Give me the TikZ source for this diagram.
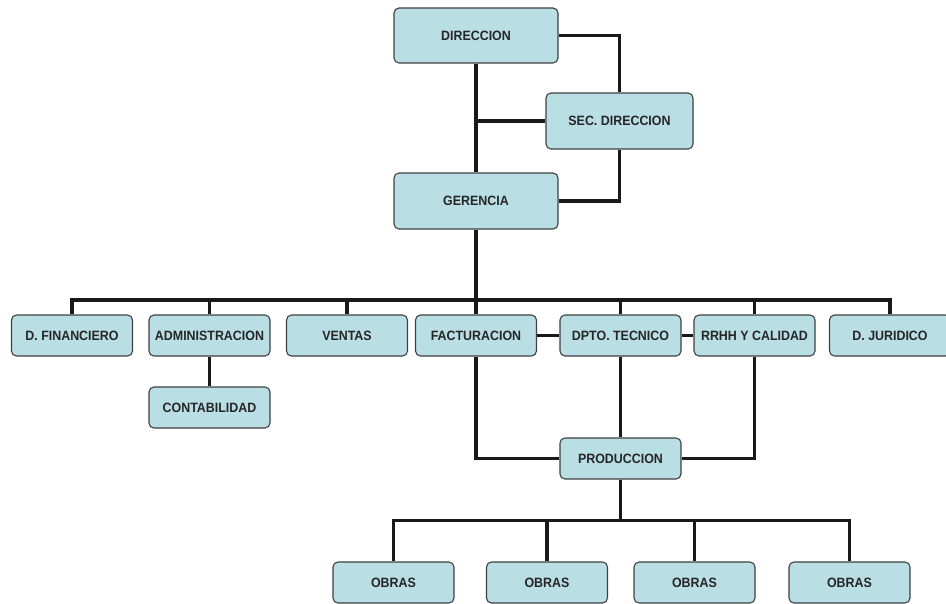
\documentclass[tikz,border=0pt]{standalone}
\usepackage{fontspec}
\setmainfont{Liberation Sans}
\newfontfamily\boxfont[FakeStretch=0.92]{Liberation Sans}
\usetikzlibrary{backgrounds}
\begin{document}
\begin{tikzpicture}[x=1pt,y=-1pt,
  unit/.style={draw=black!75, line width=1.1pt, fill=boxfill, rounded corners=5pt,
    minimum width=121pt, minimum height=41pt, inner sep=0pt,
    font=\boxfont\fontsize{13.5}{15}\selectfont\bfseries, text=black!85},
  link/.style={line width=3.2pt, draw=black!90}]
\definecolor{boxfill}{RGB}{185,222,228}
\useasboundingbox (0,0) rectangle (946,603);

% units of the chart
\node[unit, minimum width=164pt, minimum height=55pt] (dir) at (476,35.5) {DIRECCION};
\node[unit, minimum width=147pt, minimum height=56pt] (sec) at (619.5,121) {SEC. DIRECCION};
\node[unit, minimum width=164pt, minimum height=56pt] (ger) at (476,201) {GERENCIA};

\node[unit] (dfin) at (72,335.5) {D. FINANCIERO};
\node[unit] (adm) at (209.5,335.5) {ADMINISTRACION};
\node[unit] (ven) at (347,335.5) {VENTAS};
\node[unit] (fac) at (476,335.5) {FACTURACION};
\node[unit] (tec) at (620.5,335.5) {DPTO. TECNICO};
\node[unit] (rrhh) at (754.5,335.5) {RRHH Y CALIDAD};
\node[unit] (jur) at (890,335.5) {D. JURIDICO};

\node[unit] (cont) at (209.5,407.5) {CONTABILIDAD};
\node[unit] (prod) at (620.5,458.5) {PRODUCCION};

\node[unit] (ob1) at (393.5,582.5) {OBRAS};
\node[unit] (ob2) at (547,582.5) {OBRAS};
\node[unit] (ob3) at (694.5,582.5) {OBRAS};
\node[unit] (ob4) at (849.5,582.5) {OBRAS};

\coordinate (bus) at (0,300);
\coordinate (bus2) at (0,520.5);

% connectors, kept behind the boxes
\begin{scope}[on background layer]
  \fill[white] (0,0) rectangle (946,603);
  % top management
  \draw[link] (dir) -- (ger);
  \draw[link] (dir.east) -| (sec.north);
  \draw[link] (sec.west) -- (sec.west -| dir.south);
  \draw[link] (sec.south) |- (ger.east);
  % departments bus
  \draw[link] (ger) -- (fac);
  \draw[link] (dfin.north) -- (dfin.north |- bus) -- (jur.north |- bus) -- (jur.north);
  \foreach \n in {adm,ven,tec,rrhh}
    \draw[link] (\n.north) -- (\n.north |- bus);
  \draw[link] (adm) -- (cont);
  \draw[link] (fac) -- (tec);
  \draw[link] (tec) -- (rrhh);
  % production
  \draw[link] (fac.south) |- (prod.west);
  \draw[link] (tec) -- (prod);
  \draw[link] (rrhh.south) |- (prod.east);
  % works bus
  \draw[link] (prod.south) -- (prod.south |- bus2);
  \draw[link] (ob1.north) -- (ob1.north |- bus2) -- (ob4.north |- bus2) -- (ob4.north);
  \foreach \n in {ob2,ob3}
    \draw[link] (\n.north) -- (\n.north |- bus2);
\end{scope}
\end{tikzpicture}
\end{document}
